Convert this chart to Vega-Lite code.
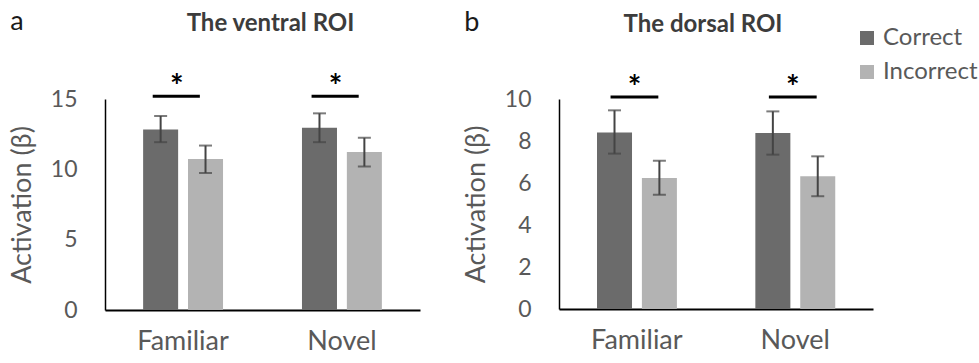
{
  "$schema": "https://vega.github.io/schema/vega-lite/v6.json",
  "padding": {"left": 8, "top": 8, "right": 0, "bottom": 0},
  "config": {
    "font": "Lato",
    "view": {"stroke": null},
    "axis": {"grid": false, "ticks": false, "domainColor": "#000000", "labelColor": "#595959", "titleColor": "#595959", "labelFont": "Lato", "titleFont": "Lato"},
    "axisX": {"domainWidth": 2, "labelFontSize": 27, "labelPadding": 18, "labelAngle": 0},
    "axisY": {"domainWidth": 1.5, "labelFontSize": 23, "labelPadding": 28, "titleFontSize": 27, "titleFontWeight": "normal", "titlePadding": 14},
    "title": {"font": "Lato"},
    "concat": {"spacing": 42}
  },
  "datasets": {
    "bars": [
      {"roi": "ventral", "cond": "Familiar", "resp": "Correct", "mean": 12.84, "lo": 11.93, "hi": 13.79},
      {"roi": "ventral", "cond": "Familiar", "resp": "Incorrect", "mean": 10.74, "lo": 9.74, "hi": 11.69},
      {"roi": "ventral", "cond": "Novel", "resp": "Correct", "mean": 12.95, "lo": 11.93, "hi": 13.98},
      {"roi": "ventral", "cond": "Novel", "resp": "Incorrect", "mean": 11.24, "lo": 10.21, "hi": 12.24},
      {"roi": "dorsal", "cond": "Familiar", "resp": "Correct", "mean": 8.40, "lo": 7.40, "hi": 9.46},
      {"roi": "dorsal", "cond": "Familiar", "resp": "Incorrect", "mean": 6.24, "lo": 5.44, "hi": 7.06},
      {"roi": "dorsal", "cond": "Novel", "resp": "Correct", "mean": 8.38, "lo": 7.35, "hi": 9.41},
      {"roi": "dorsal", "cond": "Novel", "resp": "Incorrect", "mean": 6.32, "lo": 5.37, "hi": 7.27}
    ],
    "sig": [
      {"roi": "ventral", "cond": "Familiar", "label": "*"},
      {"roi": "ventral", "cond": "Novel", "label": "*"},
      {"roi": "dorsal", "cond": "Familiar", "label": "*"},
      {"roi": "dorsal", "cond": "Novel", "label": "*"}
    ]
  },
  "resolve": {"scale": {"y": "independent", "x": "independent"}},
  "hconcat": [
    {
      "title": {"text": "a", "anchor": "start", "frame": "bounds", "fontSize": 27, "fontWeight": "normal", "color": "#1a1a1a", "offset": 0, "dy": 24, "dx": 2},
      "vconcat": [
        {
          "title": {"text": "The ventral ROI", "fontSize": 24, "fontWeight": "bold", "color": "#3c3c3c", "offset": 36, "dx": 8},
          "width": 315,
          "height": 211,
          "encoding": {
            "x": {"field": "cond", "type": "nominal", "sort": ["Familiar", "Novel"], "scale": {"paddingInner": 0.497, "paddingOuter": 0.24}, "axis": {"title": null}}
          },
          "layer": [
            {
              "data": {"name": "bars"},
              "transform": [{"filter": "datum.roi === 'ventral'"}],
              "mark": {"type": "bar"},
              "encoding": {
                "xOffset": {"field": "resp", "type": "nominal", "scale": {"paddingInner": 0.22, "paddingOuter": 0}},
                "y": {"field": "mean", "type": "quantitative", "scale": {"domain": [0, 15], "nice": false}, "axis": {"values": [0, 5, 10, 15], "title": "Activation (β)"}},
                "color": {"field": "resp", "type": "nominal", "scale": {"domain": ["Correct", "Incorrect"], "range": ["#6b6b6b", "#b3b3b3"]},
                  "legend": {"orient": "none", "legendX": 750, "legendY": -73, "title": null, "padding": 0, "symbolType": "square", "symbolSize": 196, "symbolStrokeWidth": 0, "labelFontSize": 24, "labelColor": "#595959", "labelFont": "Lato", "rowPadding": 10, "labelOffset": 4}}
              }
            },
            {
              "data": {"name": "bars"},
              "transform": [{"filter": "datum.roi === 'ventral'"}],
              "mark": {"type": "rule", "color": "#444444", "strokeWidth": 2},
              "encoding": {
                "xOffset": {"field": "resp", "type": "nominal"},
                "y": {"field": "lo", "type": "quantitative"},
                "y2": {"field": "hi"}
              }
            },
            {
              "data": {"name": "bars"},
              "transform": [{"filter": "datum.roi === 'ventral'"}],
              "mark": {"type": "tick", "orient": "horizontal", "color": "#444444", "size": 13, "thickness": 2},
              "encoding": {
                "xOffset": {"field": "resp", "type": "nominal"},
                "y": {"field": "lo", "type": "quantitative"}
              }
            },
            {
              "data": {"name": "bars"},
              "transform": [{"filter": "datum.roi === 'ventral'"}],
              "mark": {"type": "tick", "orient": "horizontal", "color": "#444444", "size": 13, "thickness": 2},
              "encoding": {
                "xOffset": {"field": "resp", "type": "nominal"},
                "y": {"field": "hi", "type": "quantitative"}
              }
            },
            {
              "data": {"name": "sig"},
              "transform": [{"filter": "datum.roi === 'ventral'"}],
              "mark": {"type": "rule", "color": "#000000", "strokeWidth": 3},
              "encoding": {
                "x": {"field": "cond", "type": "nominal", "bandPosition": 0.12},
                "x2": {"field": "cond", "bandPosition": 0.71},
                "y": {"datum": 15.2}
              }
            },
            {
              "data": {"name": "sig"},
              "transform": [{"filter": "datum.roi === 'ventral'"}],
              "mark": {"type": "text", "fontSize": 32, "fontWeight": "bold", "color": "#000000", "baseline": "alphabetic", "dy": 2},
              "encoding": {
                "x": {"field": "cond", "type": "nominal", "bandPosition": 0.42},
                "y": {"datum": 15.2},
                "text": {"field": "label"}
              }
            }
          ]
        }
      ]
    },
    {
      "title": {"text": "b", "anchor": "start", "frame": "bounds", "fontSize": 27, "fontWeight": "normal", "color": "#1a1a1a", "offset": 0, "dy": 24, "dx": 2},
      "vconcat": [
        {
          "title": {"text": "The dorsal ROI", "fontSize": 24, "fontWeight": "bold", "color": "#3c3c3c", "offset": 36, "dx": -13},
          "width": 314,
          "height": 210,
          "encoding": {
            "x": {"field": "cond", "type": "nominal", "sort": ["Familiar", "Novel"], "scale": {"paddingInner": 0.497, "paddingOuter": 0.24}, "axis": {"title": null}}
          },
          "layer": [
            {
              "data": {"name": "bars"},
              "transform": [{"filter": "datum.roi === 'dorsal'"}],
              "mark": {"type": "bar"},
              "encoding": {
                "xOffset": {"field": "resp", "type": "nominal", "scale": {"paddingInner": 0.22, "paddingOuter": 0}},
                "y": {"field": "mean", "type": "quantitative", "scale": {"domain": [0, 10], "nice": false}, "axis": {"values": [0, 2, 4, 6, 8, 10], "title": "Activation (β)"}},
                "color": {"field": "resp", "type": "nominal", "scale": {"domain": ["Correct", "Incorrect"], "range": ["#6b6b6b", "#b3b3b3"]},
                  "legend": {"orient": "none", "legendX": 750, "legendY": -73, "title": null, "padding": 0, "symbolType": "square", "symbolSize": 196, "symbolStrokeWidth": 0, "labelFontSize": 24, "labelColor": "#595959", "labelFont": "Lato", "rowPadding": 10, "labelOffset": 4}}
              }
            },
            {
              "data": {"name": "bars"},
              "transform": [{"filter": "datum.roi === 'dorsal'"}],
              "mark": {"type": "rule", "color": "#444444", "strokeWidth": 2},
              "encoding": {
                "xOffset": {"field": "resp", "type": "nominal"},
                "y": {"field": "lo", "type": "quantitative"},
                "y2": {"field": "hi"}
              }
            },
            {
              "data": {"name": "bars"},
              "transform": [{"filter": "datum.roi === 'dorsal'"}],
              "mark": {"type": "tick", "orient": "horizontal", "color": "#444444", "size": 13, "thickness": 2},
              "encoding": {
                "xOffset": {"field": "resp", "type": "nominal"},
                "y": {"field": "lo", "type": "quantitative"}
              }
            },
            {
              "data": {"name": "bars"},
              "transform": [{"filter": "datum.roi === 'dorsal'"}],
              "mark": {"type": "tick", "orient": "horizontal", "color": "#444444", "size": 13, "thickness": 2},
              "encoding": {
                "xOffset": {"field": "resp", "type": "nominal"},
                "y": {"field": "hi", "type": "quantitative"}
              }
            },
            {
              "data": {"name": "sig"},
              "transform": [{"filter": "datum.roi === 'dorsal'"}],
              "mark": {"type": "rule", "color": "#000000", "strokeWidth": 3},
              "encoding": {
                "x": {"field": "cond", "type": "nominal", "bandPosition": 0.17},
                "x2": {"field": "cond", "bandPosition": 0.77},
                "y": {"datum": 10.1}
              }
            },
            {
              "data": {"name": "sig"},
              "transform": [{"filter": "datum.roi === 'dorsal'"}],
              "mark": {"type": "text", "fontSize": 32, "fontWeight": "bold", "color": "#000000", "baseline": "alphabetic", "dy": 2},
              "encoding": {
                "x": {"field": "cond", "type": "nominal", "bandPosition": 0.47},
                "y": {"datum": 10.1},
                "text": {"field": "label"}
              }
            }
          ]
        }
      ]
    }
  ]
}
